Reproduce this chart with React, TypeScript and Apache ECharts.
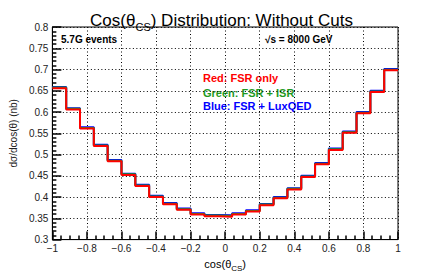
import React, { useEffect, useRef } from "react";
import * as echarts from "echarts";

const binEdges = [
  -1, -0.92, -0.84, -0.76, -0.68, -0.6, -0.52, -0.44, -0.36, -0.28, -0.2, -0.12, -0.04,
  0.04, 0.12, 0.2, 0.28, 0.36, 0.44, 0.52, 0.6, 0.68, 0.76, 0.84, 0.92, 1,
];
const redFSR = [
  0.656, 0.606, 0.561, 0.52, 0.484, 0.452, 0.426, 0.4, 0.383, 0.37, 0.359, 0.355, 0.354,
  0.359, 0.366, 0.381, 0.397, 0.418, 0.447, 0.477, 0.511, 0.551, 0.597, 0.647, 0.698,
];
const greenISR = [
  0.6575, 0.6075, 0.5625, 0.5215, 0.4855, 0.4535, 0.4275, 0.4015, 0.3845, 0.3715, 0.3605,
  0.3565, 0.3555, 0.3605, 0.3675, 0.3825, 0.3985, 0.4195, 0.4485, 0.4785, 0.5125, 0.5525,
  0.5985, 0.6485, 0.6995,
];
const blueLux = [
  0.659, 0.609, 0.564, 0.523, 0.487, 0.455, 0.429, 0.403, 0.386, 0.373, 0.362, 0.358, 0.357,
  0.362, 0.369, 0.384, 0.4, 0.421, 0.45, 0.48, 0.514, 0.554, 0.6, 0.65, 0.701,
];

const FONT = "'Liberation Sans', Arial, Helvetica, sans-serif";

function stepData(vals: number[]) {
  const d: number[][] = vals.map((v, i) => [binEdges[i], v]);
  d.push([binEdges[binEdges.length - 1], vals[vals.length - 1]]);
  return d;
}

const fmt = (v: number) => String(parseFloat(v.toFixed(2))).replace("-", "\u2212");

export default function App() {
  const ref = useRef<HTMLDivElement>(null);
  useEffect(() => {
    if (!ref.current) return;
    const chart = echarts.init(ref.current, undefined, { renderer: "svg" });
    const mkSeries = (name: string, vals: number[], color: string, z: number) => ({
      name,
      type: "line",
      step: "end",
      data: stepData(vals),
      showSymbol: false,
      symbol: "none",
      lineStyle: { color, width: 2 },
      z,
      silent: true,
    });
    const grid = { color: "#000", type: [1, 2.5], width: 1 };
    chart.setOption({
      animation: false,
      backgroundColor: "#ffffff",
      textStyle: { fontFamily: FONT },
      title: {
        text: "{m|Cos(θ}{s|CS}{m|) Distribution: Without Cuts}",
        left: "center",
        top: 3,
        textStyle: {
          fontWeight: "normal",
          rich: {
            m: { fontSize: 17, fontFamily: FONT, fontWeight: "normal", color: "#000", lineHeight: 24, verticalAlign: "middle" },
            s: { fontSize: 11, fontFamily: FONT, fontWeight: "normal", color: "#000", lineHeight: 11, verticalAlign: "bottom" },
          },
        },
      },
      grid: {
        left: 44,
        right: 45,
        top: 27,
        bottom: 28,
        show: true,
        borderColor: "#000",
        borderWidth: 1,
        backgroundColor: "transparent",
      },
      xAxis: {
        type: "value",
        min: -1,
        max: 1,
        interval: 0.2,
        name: "{m|cos(θ}{s|CS}{m|)}",
        nameLocation: "middle",
        nameGap: 14,
        nameTextStyle: {
          rich: {
            m: { fontSize: 11, fontFamily: FONT, color: "#000", lineHeight: 16, verticalAlign: "middle" },
            s: { fontSize: 8, fontFamily: FONT, color: "#000", lineHeight: 8, verticalAlign: "bottom" },
          },
        },
        axisLine: { show: true, onZero: false, lineStyle: { color: "#000", width: 1 } },
        axisTick: { show: true, inside: true, length: 8, lineStyle: { color: "#000", width: 1.5 } },
        minorTick: { show: true, splitNumber: 4, length: 4, lineStyle: { color: "#000", width: 1.5 } },
        axisLabel: { fontSize: 10, color: "#222", margin: 4, formatter: fmt, fontFamily: FONT },
        splitLine: { show: true, lineStyle: grid },
      },
      yAxis: {
        type: "value",
        min: 0.3,
        max: 0.8,
        interval: 0.05,
        name: "dσ/dcos(θ) (nb)",
        nameLocation: "middle",
        nameGap: 30,
        nameTextStyle: { fontSize: 10, color: "#222", fontFamily: FONT },
        axisLine: { show: true, onZero: false, lineStyle: { color: "#000", width: 1 } },
        axisTick: { show: true, inside: true, length: 9, lineStyle: { color: "#000", width: 1.5 } },
        minorTick: { show: true, splitNumber: 5, length: 4, lineStyle: { color: "#000", width: 1.5 } },
        axisLabel: { fontSize: 10, color: "#222", margin: 4, formatter: fmt, fontFamily: FONT },
        splitLine: { show: true, lineStyle: grid },
      },
      graphic: [
        { type: "text", left: 61, top: 34, style: { text: "5.7G events", font: `bold 10px ${FONT}`, fill: "#000" } },
        { type: "text", left: 265, top: 34, style: { text: "√s = 8000 GeV", font: `bold 10px ${FONT}`, fill: "#000" } },
        { type: "text", left: 203, top: 72, style: { text: "Red: FSR only", font: `bold 11px ${FONT}`, fill: "#ff0000" } },
        { type: "text", left: 203, top: 87, style: { text: "Green: FSR + ISR", font: `bold 11px ${FONT}`, fill: "#1f9a1f" } },
        { type: "text", left: 203, top: 100, style: { text: "Blue: FSR + LuxQED", font: `bold 11px ${FONT}`, fill: "#0000ff" } },
      ],
      series: [
        mkSeries("blue", blueLux, "#0000ff", 2),
        mkSeries("green", greenISR, "#1f9a1f", 3),
        mkSeries("red", redFSR, "#ff0000", 4),
      ],
    });
    return () => chart.dispose();
  }, []);
  return (
    <div
      ref={ref}
      style={{ position: "fixed", left: 0, top: 0, width: 443, height: 277, background: "#fff" }}
    />
  );
}
